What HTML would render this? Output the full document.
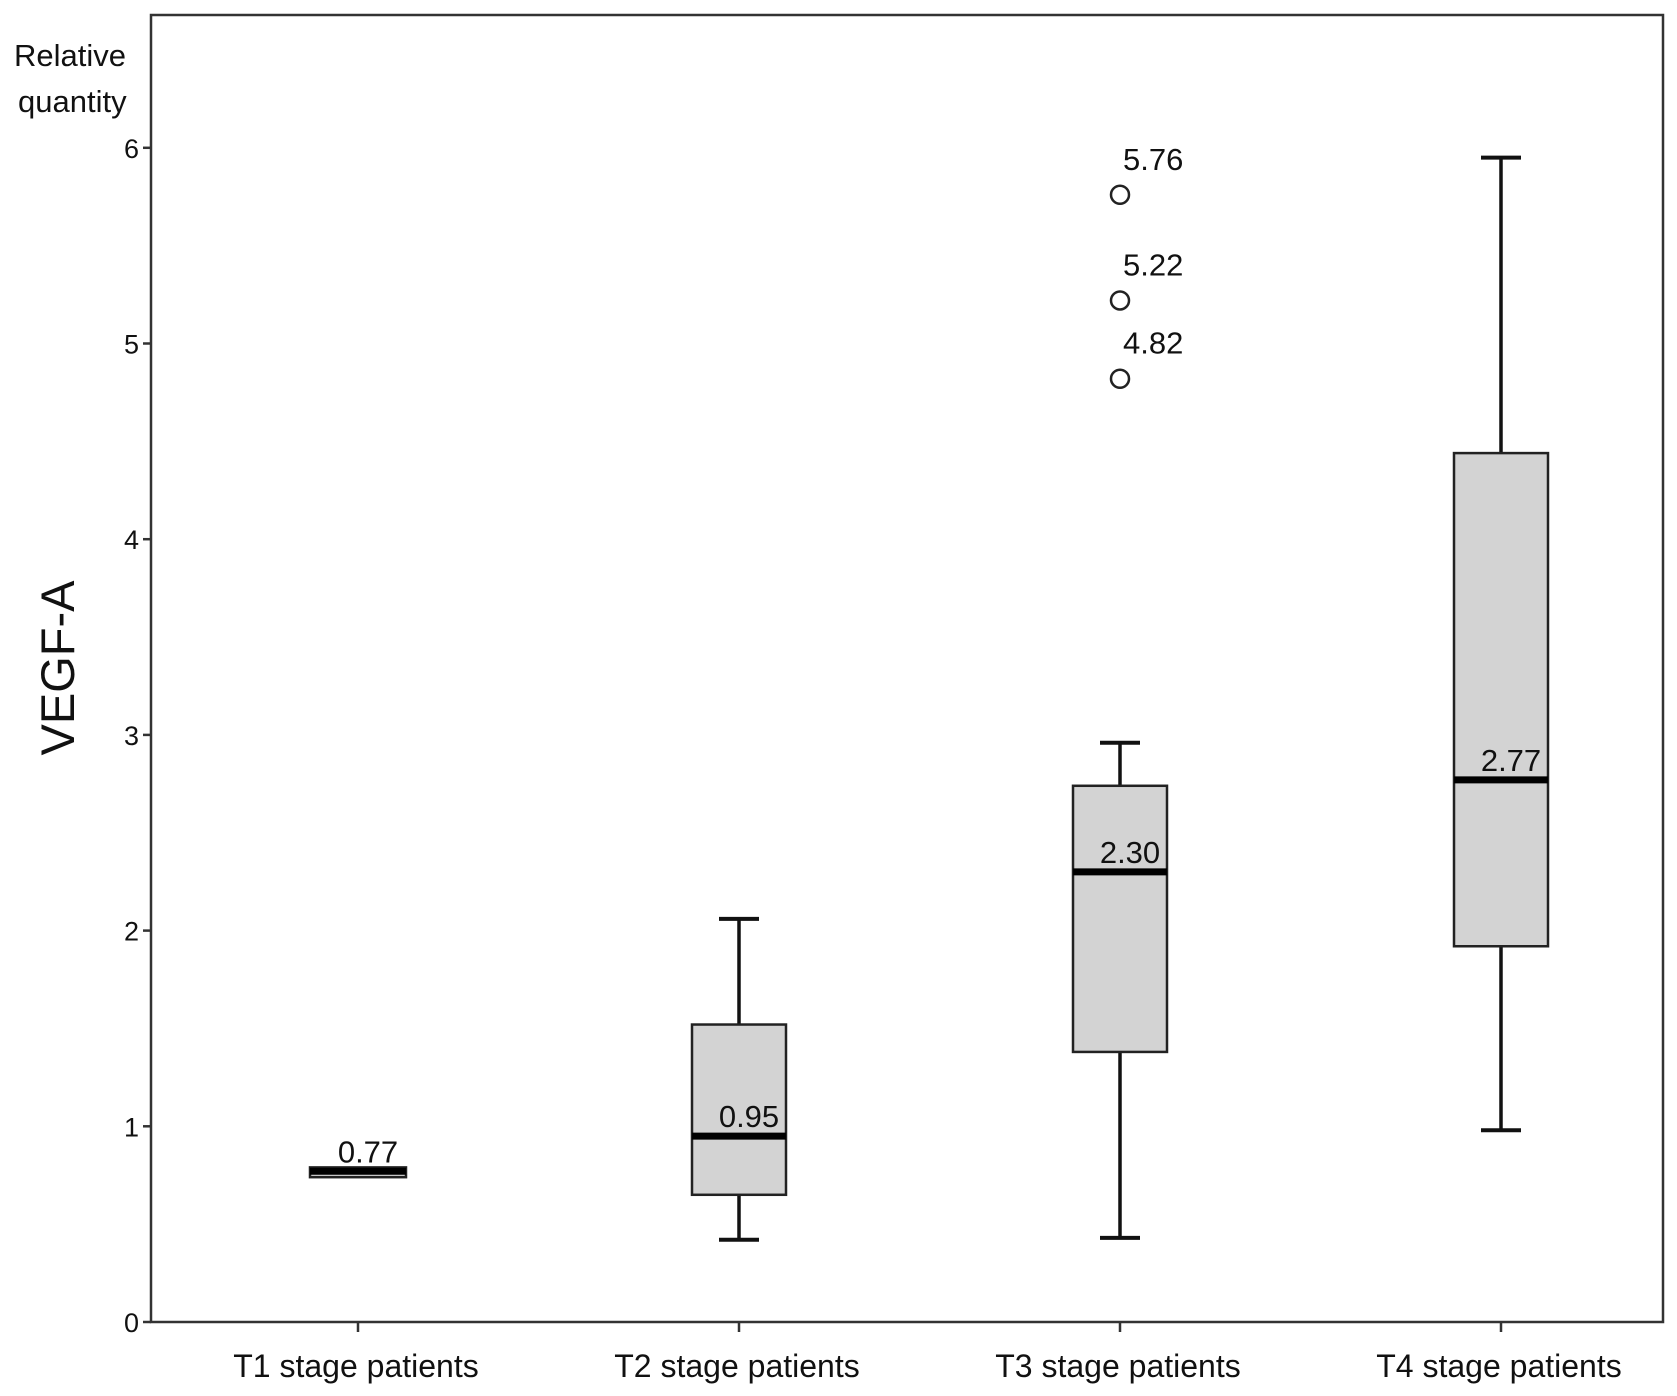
<!DOCTYPE html>
<html><head><meta charset="utf-8"><style>
html,body{margin:0;padding:0;background:#fff;}
svg{display:block;font-family:"Liberation Sans",Arial,sans-serif;}
</style></head><body>
<svg id="chart" width="1677" height="1396" viewBox="0 0 1677 1396">
<rect x="151" y="15" width="1512" height="1307" fill="none" stroke="#333" stroke-width="2.5"/>
<text x="14" y="66" font-size="31" fill="#111">Relative</text>
<text x="18" y="112" font-size="31" fill="#111">quantity</text>
<text transform="translate(74,668) rotate(-90)" text-anchor="middle" font-size="47" fill="#111">VEGF-A</text>
<g id="axes"></g>
<g id="marks"></g>
</svg>
<script>
const categories = ["T1 stage patients","T2 stage patients","T3 stage patients","T4 stage patients"];
const mins = [0.74, 0.42, 0.43, 0.98];
const q1s = [0.74, 0.65, 1.38, 1.92];
const medians = [0.77, 0.95, 2.30, 2.77];
const q3s = [0.79, 1.52, 2.74, 4.44];
const maxs = [0.79, 2.06, 2.96, 5.95];
const medianLabels = ["0.77","0.95","2.30","2.77"];
const outlierCat = [2, 2, 2];
const outlierVals = [5.76, 5.22, 4.82];
const outlierLabels = ["5.76","5.22","4.82"];
const yTicks = [0,1,2,3,4,5,6];

const NS = "http://www.w3.org/2000/svg";
const y = v => 1322 - v * 195.7;
const x = i => 358 + i * 381;
const axes = document.getElementById('axes');
const marks = document.getElementById('marks');
function mk(tag, attrs, parent, txt){
  const e = document.createElementNS(NS, tag);
  for (const k in attrs) e.setAttribute(k, attrs[k]);
  if (txt !== undefined) e.textContent = txt;
  parent.appendChild(e);
  return e;
}
yTicks.forEach(t => {
  const l = mk('line', {x1:143, x2:151, y1:y(t), y2:y(t), stroke:'#333', 'stroke-width':2.5}, axes);
  
  
  const tx = mk('text', {x:139, y:y(t)+10, 'text-anchor':'end', 'font-size':27, fill:'#111'}, axes, String(t));
  
  
});
categories.forEach((c, i) => {
  const l = mk('line', {x1:x(i), x2:x(i), y1:1322, y2:1332, stroke:'#333', 'stroke-width':2.5}, axes);
  
  
  const tx = mk('text', {x:x(i)-2, y:1377, 'text-anchor':'middle', 'font-size':32, fill:'#111'}, axes, c);
  
  
});
categories.forEach((c, i) => {
  const cx = x(i), hw = i === 0 ? 48 : 47, cw = 20;
  const g = mk('g', {}, marks);
  
  
  if (maxs[i] > q3s[i]) {
    mk('line', {x1:cx, x2:cx, y1:y(q3s[i]), y2:y(maxs[i]), stroke:'#111', 'stroke-width':3.5}, g);
    mk('line', {x1:cx-cw, x2:cx+cw, y1:y(maxs[i]), y2:y(maxs[i]), stroke:'#111', 'stroke-width':4}, g);
  }
  if (mins[i] < q1s[i]) {
    mk('line', {x1:cx, x2:cx, y1:y(q1s[i]), y2:y(mins[i]), stroke:'#111', 'stroke-width':3.5}, g);
    mk('line', {x1:cx-cw, x2:cx+cw, y1:y(mins[i]), y2:y(mins[i]), stroke:'#111', 'stroke-width':4}, g);
  }
  mk('rect', {x:cx-hw, y:y(q3s[i]), width:hw*2, height:Math.max(2, y(q1s[i])-y(q3s[i])), fill:'#d3d3d3', stroke:'#222', 'stroke-width':2.5}, g);
  mk('line', {x1:cx-hw, x2:cx+hw, y1:y(medians[i]), y2:y(medians[i]), stroke:'#000', 'stroke-width':7}, g);
  const t = mk('text', {x:cx+10, y:y(medians[i])-9, 'text-anchor':'middle', 'font-size':31, fill:'#111'}, g, medianLabels[i]);
  
  
});
outlierVals.forEach((v, j) => {
  const cx = x(outlierCat[j]);
  const c = mk('circle', {cx:cx, cy:y(v), r:9, fill:'none', stroke:'#222', 'stroke-width':2.5}, marks);
  
  
  const t = mk('text', {x:cx+3, y:y(v)-25, 'font-size':31, fill:'#111'}, marks, outlierLabels[j]);
  
  
});
</script>
</body></html>
